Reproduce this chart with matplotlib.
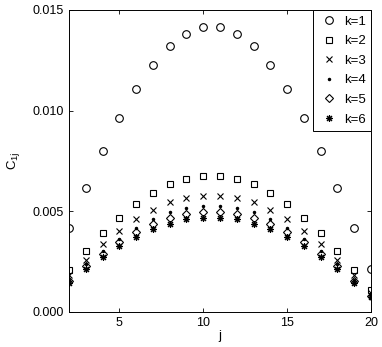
import matplotlib.pyplot as plt
from matplotlib.ticker import FormatStrFormatter

plt.rcParams['font.family'] = ['Liberation Sans', 'DejaVu Sans']
plt.rcParams['mathtext.default'] = 'regular'

# j index and C_1j values for each k
j = list(range(2, 21))
k1 = [0.00418, 0.00615, 0.00800, 0.00964, 0.01108, 0.01229, 0.01320, 0.01383, 0.01414,
      0.01414, 0.01383, 0.01320, 0.01229, 0.01108, 0.00964, 0.00800, 0.00615, 0.00418, 0.00212]
k2 = [0.00207, 0.00301, 0.00390, 0.00469, 0.00537, 0.00593, 0.00635, 0.00663, 0.00676,
      0.00676, 0.00661, 0.00635, 0.00593, 0.00537, 0.00469, 0.00390, 0.00301, 0.00207, 0.00107]
k3 = [0.00182, 0.00260, 0.00337, 0.00404, 0.00462, 0.00506, 0.00544, 0.00564, 0.00576,
      0.00576, 0.00564, 0.00544, 0.00506, 0.00462, 0.00404, 0.00337, 0.00260, 0.00182, 0.00094]
k4 = [0.00160, 0.00237, 0.00305, 0.00365, 0.00418, 0.00462, 0.00495, 0.00516, 0.00524,
      0.00524, 0.00516, 0.00495, 0.00462, 0.00418, 0.00365, 0.00305, 0.00237, 0.00160, 0.00082]
k5 = [0.00152, 0.00226, 0.00286, 0.00348, 0.00396, 0.00436, 0.00466, 0.00488, 0.00497,
      0.00497, 0.00488, 0.00466, 0.00436, 0.00396, 0.00348, 0.00286, 0.00226, 0.00152, 0.00078]
k6 = [0.00144, 0.00214, 0.00275, 0.00330, 0.00374, 0.00410, 0.00439, 0.00460, 0.00469,
      0.00469, 0.00460, 0.00439, 0.00410, 0.00374, 0.00330, 0.00275, 0.00214, 0.00144, 0.00074]

fig = plt.figure(figsize=(3.82, 3.47), dpi=100)
ax = fig.add_axes([0.1806, 0.1009, 0.7906, 0.8703])

ax.plot(j, k1, 'o', mfc='none', mec='black', ms=5.5, mew=0.8, label='k=1')
ax.plot(j, k2, 's', mfc='none', mec='black', ms=4.3, mew=0.8, label='k=2')
ax.plot(j, k3, 'x', color='black', ms=4, mew=0.8, label='k=3')
ax.plot(j, k4, '.', color='black', ms=3, label='k=4')
ax.plot(j, k5, 'D', mfc='none', mec='black', ms=4, mew=0.8, label='k=5')
ax.plot(j, k6, marker=(8, 2, 0), ls='none', color='black', ms=5, mew=0.8, label='k=6')

ax.set_xlim(2, 20)
ax.set_ylim(0, 0.015)
ax.set_xticks([5, 10, 15, 20])
ax.set_yticks([0, 0.005, 0.010, 0.015])
ax.yaxis.set_major_formatter(FormatStrFormatter('%.3f'))
ax.tick_params(direction='in', top=True, right=True, length=3, width=0.6, labelsize=9)
for s in ax.spines.values():
    s.set_linewidth(0.7)

ax.set_xlabel('j', fontsize=9.5, labelpad=1)
ax.set_ylabel(r'C$_{1\mathrm{j}}$', fontsize=9.5, labelpad=8)

leg = ax.legend(loc='upper right', fontsize=9.5, borderaxespad=0, fancybox=False,
                edgecolor='black', framealpha=1, handletextpad=0.35, labelspacing=0.56,
                handlelength=1.6)
leg.get_frame().set_linewidth(0.7)

fig.savefig('out.png', dpi=100)
